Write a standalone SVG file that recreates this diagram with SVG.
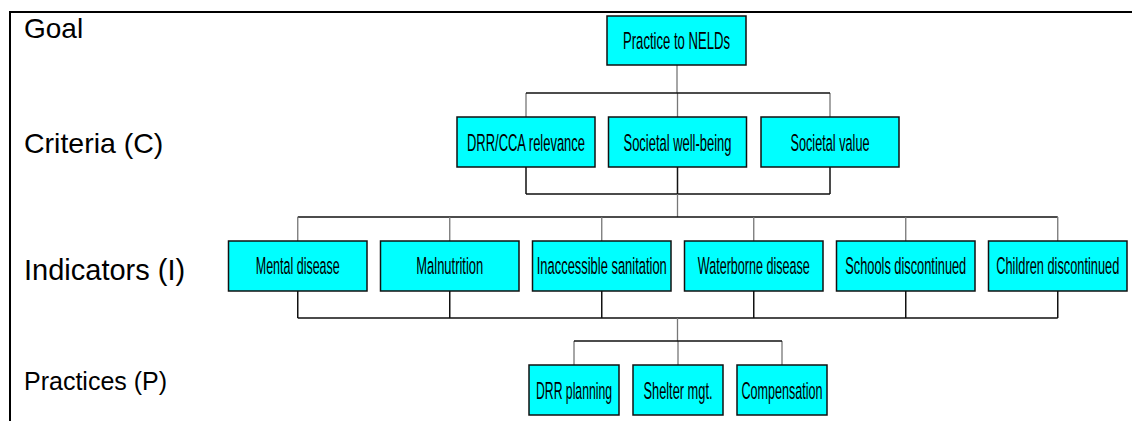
<svg xmlns="http://www.w3.org/2000/svg" width="1132" height="421" viewBox="0 0 1132 421">
<style>
.frame{stroke:#000;stroke-width:2;fill:none}
.lbl{font-family:"Liberation Sans",Arial,sans-serif;fill:#000}
.box rect{fill:#00FFFF;stroke:#111;stroke-width:1.5}
.box text{font-family:"Liberation Sans",Arial,sans-serif;font-size:24.5px;fill:#000;text-anchor:middle}
.dk{stroke:#111;stroke-width:1.5;fill:none}
.gr{stroke:#777;stroke-width:1.3;fill:none}
</style>
<rect width="1132" height="421" fill="#fff"/>
<path class="frame" d="M10,421 V12 H1132"/>
<g id="labels">
<text class="lbl" x="24" y="38" font-size="28">Goal</text>
<text class="lbl" x="24" y="152.5" font-size="28.5">Criteria (C)</text>
<text class="lbl" x="24" y="280" font-size="29">Indicators (I)</text>
<text class="lbl" x="24" y="389.5" font-size="25">Practices (P)</text>
</g>
<g id="connectors">
<path class="gr" d="M677,65 V93 M526,93 V117 M677.5,93 V117 M830,93 V117"/>
<path class="dk" d="M526,93 H830"/>
<path class="dk" d="M526,167 V194 M677.5,167 V194 M830,167 V194 M526,194 H830"/>
<path class="gr" d="M677.5,194 V217"/>
<path class="dk" d="M297.75,217 H1057.75"/>
<path class="gr" d="M297.75,217 V241 M449.75,217 V241 M601.75,217 V241 M753.75,217 V241 M905.75,217 V241 M1057.75,217 V241"/>
<path class="dk" d="M297.75,291 V318 M449.75,291 V318 M601.75,291 V318 M753.75,291 V318 M905.75,291 V318 M1057.75,291 V318 M297.75,318 H1057.75"/>
<path class="gr" d="M677.5,318 V341 M574,341 V365 M678,341 V365 M782,341 V365"/>
<path class="dk" d="M574,341 H782"/>
</g>
<g id="goal" class="box"><rect x="607" y="16" width="139" height="49"/><text transform="translate(676.5,49) scale(0.55,1)" textLength="194.5" lengthAdjust="spacingAndGlyphs">Practice to NELDs</text></g>
<g id="c1" class="box"><rect x="457" y="117" width="138" height="50"/><text transform="translate(526,150.5) scale(0.55,1)" textLength="214.5" lengthAdjust="spacingAndGlyphs">DRR/CCA relevance</text></g>
<g id="c2" class="box"><rect x="608.5" y="117" width="138" height="50"/><text transform="translate(677.5,150.5) scale(0.55,1)" textLength="196.4" lengthAdjust="spacingAndGlyphs">Societal well-being</text></g>
<g id="c3" class="box"><rect x="761" y="117" width="138" height="50"/><text transform="translate(830,150.5) scale(0.55,1)" textLength="143.6" lengthAdjust="spacingAndGlyphs">Societal value</text></g>
<g id="i1" class="box"><rect x="228.5" y="241" width="138.5" height="50"/><text transform="translate(297.75,274) scale(0.55,1)" textLength="152.7" lengthAdjust="spacingAndGlyphs">Mental disease</text></g>
<g id="i2" class="box"><rect x="380.5" y="241" width="138.5" height="50"/><text transform="translate(449.75,274) scale(0.55,1)" textLength="121.8" lengthAdjust="spacingAndGlyphs">Malnutrition</text></g>
<g id="i3" class="box"><rect x="532.5" y="241" width="138.5" height="50"/><text transform="translate(601.75,274) scale(0.55,1)" textLength="236.4" lengthAdjust="spacingAndGlyphs">Inaccessible sanitation</text></g>
<g id="i4" class="box"><rect x="684.5" y="241" width="138.5" height="50"/><text transform="translate(753.75,274) scale(0.55,1)" textLength="203.6" lengthAdjust="spacingAndGlyphs">Waterborne disease</text></g>
<g id="i5" class="box"><rect x="836.5" y="241" width="138.5" height="50"/><text transform="translate(905.75,274) scale(0.55,1)" textLength="220" lengthAdjust="spacingAndGlyphs">Schools discontinued</text></g>
<g id="i6" class="box"><rect x="988.5" y="241" width="138.5" height="50"/><text transform="translate(1057.75,274) scale(0.55,1)" textLength="223.6" lengthAdjust="spacingAndGlyphs">Children discontinued</text></g>
<g id="p1" class="box"><rect x="529" y="365" width="90" height="50"/><text transform="translate(574,399) scale(0.55,1)" textLength="138.2" lengthAdjust="spacingAndGlyphs">DRR planning</text></g>
<g id="p2" class="box"><rect x="633" y="365" width="90" height="50"/><text transform="translate(678,399) scale(0.55,1)" textLength="125.5" lengthAdjust="spacingAndGlyphs">Shelter mgt.</text></g>
<g id="p3" class="box"><rect x="737" y="365" width="90" height="50"/><text transform="translate(782,399) scale(0.55,1)" textLength="147.3" lengthAdjust="spacingAndGlyphs">Compensation</text></g>
</svg>
